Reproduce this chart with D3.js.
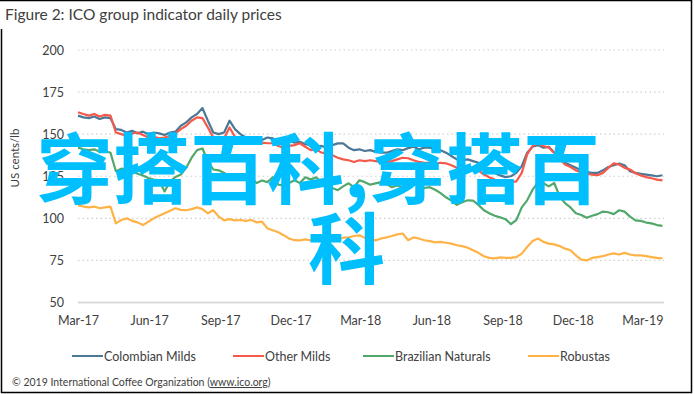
<!DOCTYPE html>
<html>
<head>
<meta charset="utf-8">
<script src="https://cdn.jsdelivr.net/npm/d3@7"></script>
<style>
  body { margin: 0; background: #fff; }
  svg { display: block; }
  text { font-family: Lato, "Liberation Sans", sans-serif; fill: #404040; }
</style>
</head>
<body>
<svg id="chart" width="695" height="394"></svg>
<script>
// ---- data (US cents/lb, weekly readings from 1 Mar 2017) ----
var startDate = "2017-03-01";
var stepDays = 7;

var colombianMilds = [161, 160, 159.5, 160.5, 159, 160, 159.5, 153, 152.5, 151,
  152, 150.5, 151.5, 150, 151, 150.5, 149.5, 151, 151.5, 155,
  157, 160, 162, 165.5, 158, 151, 150, 151, 158, 153,
  150, 148, 146, 147, 146.5, 148, 147.5, 145.5, 144.5, 146,
  145, 145.5, 144, 143.5, 142.5, 143, 142, 143.5, 144.5, 144.5,
  142, 140.5, 141, 140, 140.5, 139.5, 139, 139, 140, 141,
  140.5, 141.7, 142.5, 141, 142, 142, 141, 140.5, 139, 137,
  135, 134.5, 135, 134, 133, 129, 128, 127, 125.5, 124.5,
  125, 127, 131, 139, 142.5, 143.5, 142, 142.5, 139, 136,
  133, 131.5, 130, 128.5, 127.5, 127, 127, 128.5, 130.5, 131.5,
  132.5, 131.5, 128, 127, 126.5, 126, 125.5, 125, 125.6];

var otherMilds = [163, 162, 161, 162, 160.5, 161.5, 161, 151, 150, 149,
  150.5, 151, 149.5, 148, 148.5, 147.5, 148, 149, 150.5, 153,
  155, 158, 160, 159.5, 154, 148, 147.5, 147.6, 154, 148.5,
  146.5, 146, 145, 144.5, 145, 144.6, 144.6, 143, 142, 143,
  143.5, 144.6, 142.5, 140.5, 141, 139, 138.7, 137.5, 136, 135,
  134.5, 133.5, 134.5, 134, 134.5, 134, 133.5, 133, 134, 135,
  136, 135.7, 134.5, 133.5, 133, 133, 132.5, 133, 132.7, 131.5,
  130, 130.5, 130, 130, 128.5, 126, 124.4, 123, 122, 121.4,
  121.5, 122, 127, 138, 143, 144.6, 143, 142, 139, 135.5,
  132, 130.5, 128.5, 127.4, 126.5, 126, 125.6, 127, 130, 132.7,
  132, 130, 129, 126.8, 125.5, 124.5, 123.8, 123, 122.6];

var brazilianNaturals = [142, 141, 140.5, 141, 139.5, 140, 139, 128, 129.5, 129,
  128, 126.5, 125.5, 124, 123, 122.5, 116, 122, 124.5, 126,
  130, 136, 140.5, 141.5, 134, 129, 128.5, 127, 125, 126,
  124.5, 125.6, 124, 121, 122.5, 121.5, 124.4, 120, 119.6, 121,
  122.6, 121, 124.4, 123, 124.4, 121.4, 120.8, 118, 116.7, 119,
  120.8, 118.5, 122.6, 121.5, 120, 120.8, 121.5, 120.5, 118.5, 119.5,
  118.5, 119, 120.8, 119.5, 118, 118.5, 117, 115, 112.5, 110.5,
  108, 109.5, 110.7, 110.5, 108, 104.8, 103, 101.5, 100.6, 99.5,
  96.5, 99, 106.5, 110.7, 117, 121.4, 120.8, 119, 121, 113,
  109, 106.5, 103, 102, 100.3, 101.5, 102.5, 104, 103.6, 102.5,
  104.8, 104, 101, 98.8, 98.5, 97.5, 97, 96, 95.5];

var robustas = [107.7, 107, 106.5, 107, 106, 106.5, 107, 97, 99, 100,
  98.5, 97.6, 96, 98, 100, 101.5, 103, 104.5, 106, 105,
  104.8, 105.5, 106.5, 105.5, 103, 104.8, 101, 98.8, 99.5, 98.8,
  99, 98.5, 99, 97.6, 98, 94, 92.9, 91.7, 90, 88,
  87, 86.9, 87.5, 86.9, 87.5, 88, 88.7, 88, 87.5, 88.5,
  88.7, 89.5, 89.9, 88.5, 87.5, 86.9, 88, 88.7, 89.5, 90.5,
  91, 87, 88.7, 88, 87, 86.5, 85.7, 86, 85.5, 85,
  84, 83.5, 82.5, 81, 79.5, 77.5, 76.5, 76.2, 76.8, 76.5,
  76.5, 77, 79, 83, 86.5, 88, 86, 85, 84.5, 83.5,
  82, 81, 78, 75.5, 75, 76.5, 77, 77.5, 78.5, 79.2,
  78.5, 79.5, 78.5, 78, 78, 77.5, 77, 76.5, 76.2];

var seriesNames = ["Colombian Milds", "Other Milds", "Brazilian Naturals", "Robustas"];
var seriesColors = ["#4a7896", "#f6584a", "#52a86b", "#ffb347"];
var yTicks = [50, 75, 100, 125, 150, 175, 200];
var xTickDates = ["2017-03-01", "2017-06-01", "2017-09-01", "2017-12-01", "2018-03-01",
  "2018-06-01", "2018-09-01", "2018-12-01", "2019-03-01"];

var titleText = "Figure 2: ICO group indicator daily prices";
var yTitle = "US cents/lb";
var watermark = ["穿搭百科,穿搭百", "科"];

var parse = d3.timeParse("%Y-%m-%d");
var t0 = parse(startDate);
var dates = colombianMilds.map(function(d, i) { return d3.timeDay.offset(t0, i * stepDays); });
var allValues = [colombianMilds, otherMilds, brazilianNaturals, robustas];

var svg = d3.select("#chart");

// frame
svg.append("path")
  .attr("d", "M1.5,29 V392.5 H691.5 V0.5 H0")
  .attr("fill", "none").attr("stroke", "#000").attr("stroke-width", 1.5);

svg.append("text")
  .attr("x", 5).attr("y", 20)
  .style("font-size", "15.5px")
  .text(titleText);

var x = d3.scaleTime()
  .domain([parse("2017-03-01"), parse("2019-03-29")])
  .range([78, 664]);
var y = d3.scaleLinear().domain([50, 200]).range([302.5, 50]);

// gridlines
svg.append("g").selectAll("line").data(yTicks).enter().append("line")
  .attr("x1", 78).attr("x2", 664)
  .attr("y1", function(d) { return y(d); })
  .attr("y2", function(d) { return y(d); })
  .attr("stroke", function(d) { return d === 50 ? "#d9d9d9" : "#cfcfcf"; })
  .attr("stroke-width", function(d) { return d === 50 ? 2 : 1.2; })
  .attr("stroke-dasharray", function(d) { return d === 50 ? null : "1.5,3"; });

// y axis
var yAxis = d3.axisLeft(y).tickValues(yTicks).tickSize(0).tickPadding(0);
var gy = svg.append("g").attr("transform", "translate(64,0)").call(yAxis);
gy.select(".domain").remove();
gy.selectAll("text").style("font-size", "12.5px").attr("fill", "#404040")
  .style("font-family", "Lato, sans-serif");

svg.append("text")
  .attr("transform", "translate(19,158) rotate(-90)")
  .attr("text-anchor", "middle")
  .style("font-size", "11.5px")
  .text(yTitle);

// x axis
var xAxis = d3.axisBottom(x)
  .tickValues(xTickDates.map(parse))
  .tickFormat(d3.timeFormat("%b-%y"))
  .tickSize(0).tickPadding(0);
var gx = svg.append("g").attr("transform", "translate(0,316)").call(xAxis);
gx.select(".domain").remove();
gx.selectAll("text").style("font-size", "12.5px").attr("fill", "#404040")
  .style("font-family", "Lato, sans-serif");

// lines
var line = d3.line()
  .x(function(d, i) { return x(dates[i]); })
  .y(function(d) { return y(d); });

svg.append("g").selectAll("path").data(allValues).enter().append("path")
  .attr("d", line)
  .attr("fill", "none")
  .attr("stroke", function(d, i) { return seriesColors[i]; })
  .attr("stroke-width", 2.2)
  .attr("stroke-linejoin", "round");

// legend
var legendX = [72, 233, 363, 528];
var lg = svg.append("g").selectAll("g").data(seriesNames).enter().append("g")
  .attr("transform", function(d, i) { return "translate(" + legendX[i] + ",356)"; });
lg.append("line").attr("x1", 0).attr("x2", 31).attr("y1", 0).attr("y2", 0)
  .attr("stroke", function(d, i) { return seriesColors[i]; }).attr("stroke-width", 2);
lg.append("text").attr("x", 32).attr("y", 4.5)
  .style("font-size", "12.5px")
  .text(function(d) { return d; });

// copyright
var cp = svg.append("text").attr("x", 12).attr("y", 386).style("font-size", "10.5px");
cp.append("tspan").text("© 2019 International Coffee Organization (");
cp.append("tspan").style("text-decoration", "underline").text("www.ico.org");
cp.append("tspan").text(")");

// watermark overlay
svg.append("g").selectAll("text").data(watermark).enter().append("text")
  .attr("x", function(d, i) { return i === 0 ? 36 : 308; })
  .attr("y", function(d, i) { return i === 0 ? 198 : 278; })
  .style("font-family", "'Noto Sans CJK SC', sans-serif")
  .style("font-weight", 700)
  .style("font-size", "77px")
  .style("fill", "#00bfff")
  .text(function(d) { return d; });
</script>
</body>
</html>
